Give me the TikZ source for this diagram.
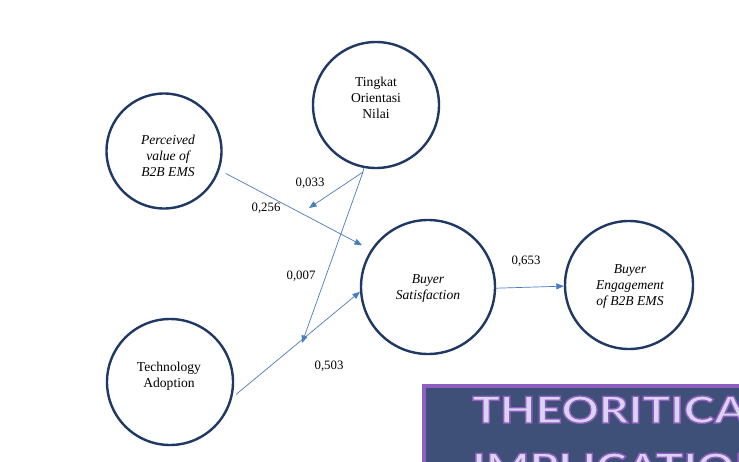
\documentclass[tikz,border=0pt]{standalone}
\usepackage{fontspec}
\setmainfont{Liberation Serif}
\newfontfamily\boxfont[FakeStretch=1.25]{Lato}
\usetikzlibrary{arrows.meta}
\definecolor{navy}{HTML}{1F3864}
\definecolor{linkblue}{HTML}{4A7CC0}
\definecolor{boxfill}{HTML}{3F5078}
\definecolor{boxedge}{HTML}{8E5FC0}
\definecolor{lav}{HTML}{DCD2F2}
\begin{document}
\begin{tikzpicture}[x=1pt,y=-1pt,
  construct/.style={circle,draw=navy,line width=2.4pt,inner sep=0pt},
  ctext/.style={align=center,inner sep=0pt,font=\fontsize{13.6}{16}\selectfont},
  path/.style={draw=linkblue,line width=0.7pt,-{Triangle[length=7.5pt,width=6pt]}},
  coef/.style={font=\fontsize{12.8}{14}\selectfont,inner sep=0pt},
  banner/.style={font=\boxfont\bfseries\fontsize{37}{40}\selectfont,anchor=base west,inner sep=0pt,text=lav}]
\useasboundingbox (0,0) rectangle (739,461);
\fill[white] (0,0) rectangle (739,461);
\node[construct,minimum size=115pt] (pv) at (164,151) {};
\node[construct,minimum size=126pt] (to) at (376,105) {};
\node[construct,minimum size=134pt] (bs) at (428,287) {};
\node[construct,minimum size=128pt] (be) at (629,285) {};
\node[construct,minimum size=126pt] (ta) at (170,382) {};
\node[ctext] (pvt) at (168,156) {\itshape Perceived\\\itshape value of\\\itshape B2B EMS};
\node[ctext] (tot) at (376,98) {Tingkat\\Orientasi\\Nilai};
\node[ctext] (bst) at (428,288) {\itshape Buyer\\\itshape Satisfaction};
\node[ctext] (bet) at (630,286) {\itshape Buyer\\\itshape Engagement\\\itshape of B2B EMS};
\node[ctext] (tat) at (169,376) {Technology\\Adoption};
\coordinate (toout) at (363,172);
\coordinate (m1) at (309,208);
\coordinate (m2) at (302,343);
\draw[path,shorten <=7pt,shorten >=10pt] (pv.-19) -- (bs.147);
\draw[path,shorten <=5pt] (ta.-14) -- (bs.184);
\draw[path] (bs.-1) -- (be.181);
\draw[linkblue,line width=0.7pt] (to.-101) -- (toout);
\draw[path] (toout) -- (m1);
\draw[path] (toout) -- (m2);
\node[coef] (c1) at (310,183) {0,033};
\node[coef] (c2) at (266,208) {0,256};
\node[coef] (c3) at (301,276) {0,007};
\node[coef] (c4) at (329,366) {0,503};
\node[coef] (c5) at (526,261) {0,653};
\begin{scope}
\clip (0,0) rectangle (739,461);
\draw[fill=boxfill,draw=boxedge,line width=3.5pt] (424,386) rectangle (760,480);
\node[banner] (bt1) at (472,423) {\special{pdf:literal direct 2 Tr 1.4 w 0.557 0.373 0.753 RG}THEORITICAL\special{pdf:literal direct 0 Tr}};
\node[banner] (bt2) at (472,480) {\special{pdf:literal direct 2 Tr 1.4 w 0.557 0.373 0.753 RG}IMPLICATIONS\special{pdf:literal direct 0 Tr}};
\end{scope}
\end{tikzpicture}
\end{document}
